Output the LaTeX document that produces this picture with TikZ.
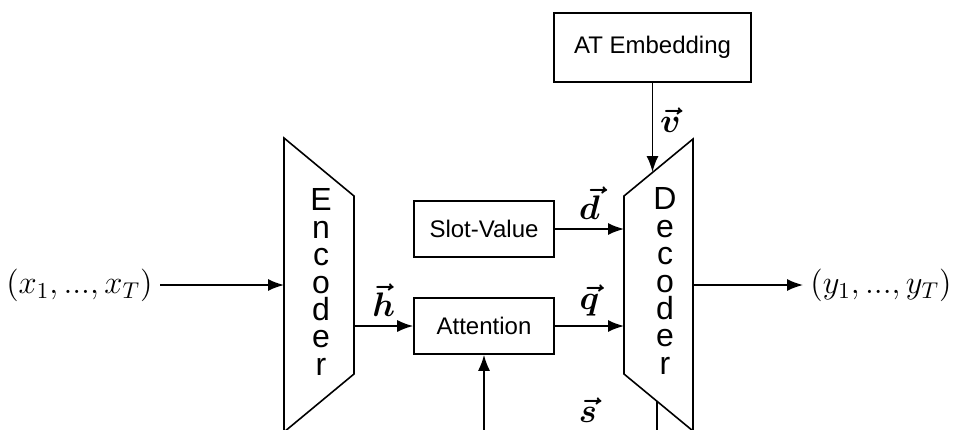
\RequirePackage{fix-cm}
\documentclass[tikz,border=0pt]{standalone}
\usepackage{amsmath}
\usepackage{fontspec}
\setsansfont{Liberation Sans}
\usetikzlibrary{arrows.meta}
\tikzset{
  block/.style={draw, line width=0.8pt, font=\sffamily\fontsize{12}{14}\selectfont, minimum width=70pt, minimum height=28pt},
  stack/.style={align=center, font=\sffamily\fontsize{16}{13.7}\selectfont},
  vlabel/.style={font=\fontsize{17}{20}\selectfont},
  seqlabel/.style={font=\fontsize{16.3}{20}\selectfont},
}
\begin{document}
\begin{tikzpicture}[x=0.5pt, y=-0.5pt, line width=0.8pt, >={Latex[length=8pt,width=6pt]}]
  % Cadre (la figure est coupée en bas)
  \useasboundingbox (0,0) rectangle (953,429);
  \clip (0,0) rectangle (953,429);

  % Encoder
  \coordinate (E1) at (284,138);
  \coordinate (E2) at (354,196);
  \coordinate (E3) at (354,374);
  \coordinate (E4) at (284,432);
  \draw (E1) -- (E2) -- (E3) -- (E4) -- cycle;
  \node[stack] (enc) at (321,282) {E\\n\\c\\o\\d\\e\\r};

  % Decoder
  \coordinate (D1) at (624,196);
  \coordinate (D2) at (693,139);
  \coordinate (D3) at (693,431);
  \coordinate (D4) at (624,374);
  \draw (D1) -- (D2) -- (D3) -- (D4) -- cycle;
  \node[stack] (dec) at (665,281) {D\\e\\c\\o\\d\\e\\r};

  % Blocs
  \node[block] (slot) at (484,229) {Slot-Value};
  \node[block] (att) at (484,326) {Attention};
  \node[block, minimum width=98.5pt, minimum height=34.5pt] (emb) at (652.5,47.5) {AT Embedding};

  % Entrée / sortie
  \node[seqlabel, anchor=east] (in) at (160,285) {$(x_1, ..., x_T)$};
  \node[seqlabel, anchor=west] (out) at (803,285) {$(y_1, ..., y_T)$};

  % Points d'accroche
  \coordinate (encin) at (284,285);
  \coordinate (encout) at (354,326);
  \coordinate (decv) at (652.5,172);
  \coordinate (decd) at (624,229);
  \coordinate (decq) at (624,326);
  \coordinate (decout) at (693,285);
  \coordinate (decs) at (657,401);
  \coordinate (sbot) at (657,440);
  \coordinate (abot) at (484,440);

  % Flèches
  \draw[->] (in) -- (encin);
  \draw[->] (encout) -- (att) node[vlabel, midway, above=1pt] {$\boldsymbol{\vec{h}}$};
  \draw[->] (slot) -- (decd) node[vlabel, midway, above=1pt] {$\boldsymbol{\vec{d}}$};
  \draw[->] (att) -- (decq) node[vlabel, midway, above=1pt] {$\boldsymbol{\vec{q}}$};
  \draw[->] (emb.south) -- (decv) node[vlabel, pos=0.42, right] {$\boldsymbol{\vec{v}}$};
  \draw[->] (decout) -- (out);
  \draw[->] (abot) -- (att);
  \draw (sbot) -- (decs);
  \node[vlabel] (s) at (588,410) {$\boldsymbol{\vec{s}}$};
\end{tikzpicture}
\end{document}
